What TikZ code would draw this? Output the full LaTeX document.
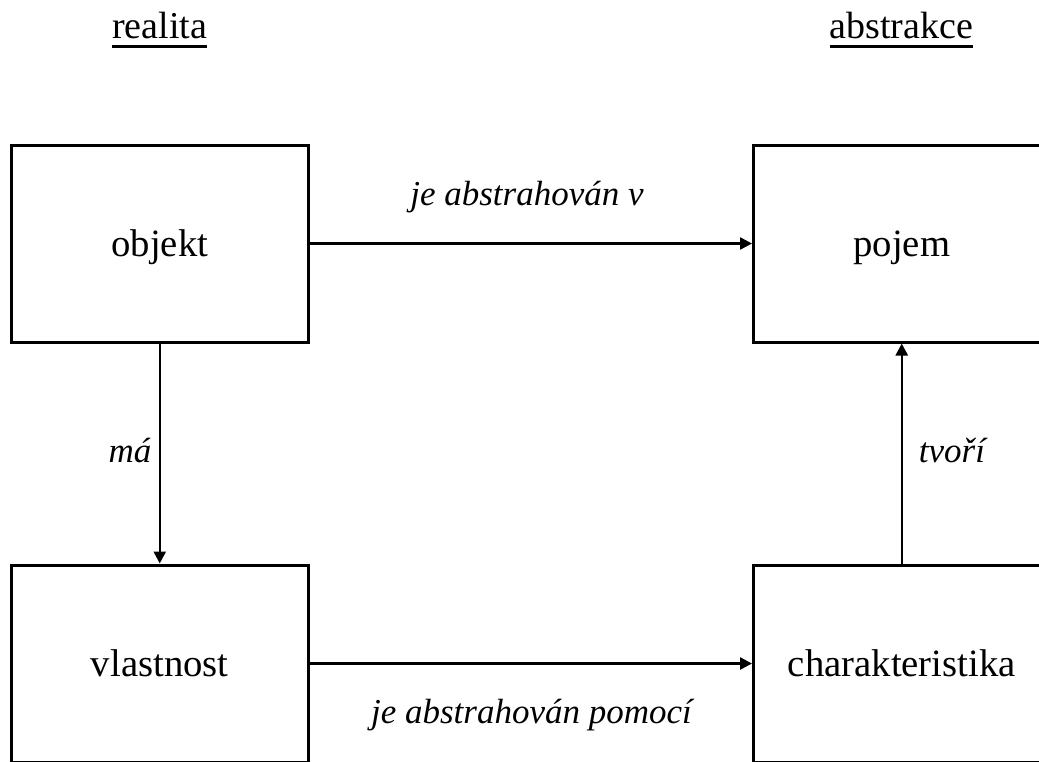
\documentclass[tikz,border=0pt]{standalone}
\usepackage{fontspec}
\setmainfont{Liberation Serif}
\usetikzlibrary{arrows.meta}
\begin{document}
\begin{tikzpicture}[x=1pt,y=-1pt,
  box/.style={draw=black,line width=3pt,minimum width=296.5pt,minimum height=197pt,
    inner sep=0pt,text height=30pt,text depth=3.6pt,font=\fontsize{38.7}{44}\selectfont},
  arr/.style={line width=2.5pt,-{Triangle[length=12pt,width=12pt]}},
  lbl/.style={anchor=base,inner sep=0pt,font=\fontsize{35}{40}\selectfont\itshape},
  head/.style={anchor=base,inner sep=0pt,font=\fontsize{38}{44}\selectfont}]
\useasboundingbox (0,0) rectangle (1039,761);
\clip (0,0) rectangle (1039,761);
\node[box] (objekt) at (159.75,243.5) {objekt};
\node[box] (pojem) at (901.75,243.5) {pojem};
\node[box] (vlastnost) at (159.75,663.5) {vlastnost};
\node[box] (char) at (901.75,663.5) {charakteristika};
\node[head] (realita) at (159.5,38) {realita};
\node[head] (abstrakce) at (901.5,38) {abstrakce};
\draw[line width=2.5pt] ([yshift=-8.5pt]realita.base west) -- ([yshift=-8.5pt]realita.base east);
\draw[line width=2.5pt] ([yshift=-8.5pt]abstrakce.base west) -- ([yshift=-8.5pt]abstrakce.base east);
\draw[arr] (objekt) -- (pojem);
\draw[arr] (objekt) -- (vlastnost);
\draw[arr] (vlastnost) -- (char);
\draw[arr] (char) -- (pojem);
\node[lbl] (l1) at (527,205) {je abstrahován v};
\node[lbl] (l2) at (130,462) {má};
\node[lbl] (l3) at (952,462) {tvoří};
\node[lbl] (l4) at (531.5,723) {je abstrahován pomocí};
\end{tikzpicture}
\end{document}
